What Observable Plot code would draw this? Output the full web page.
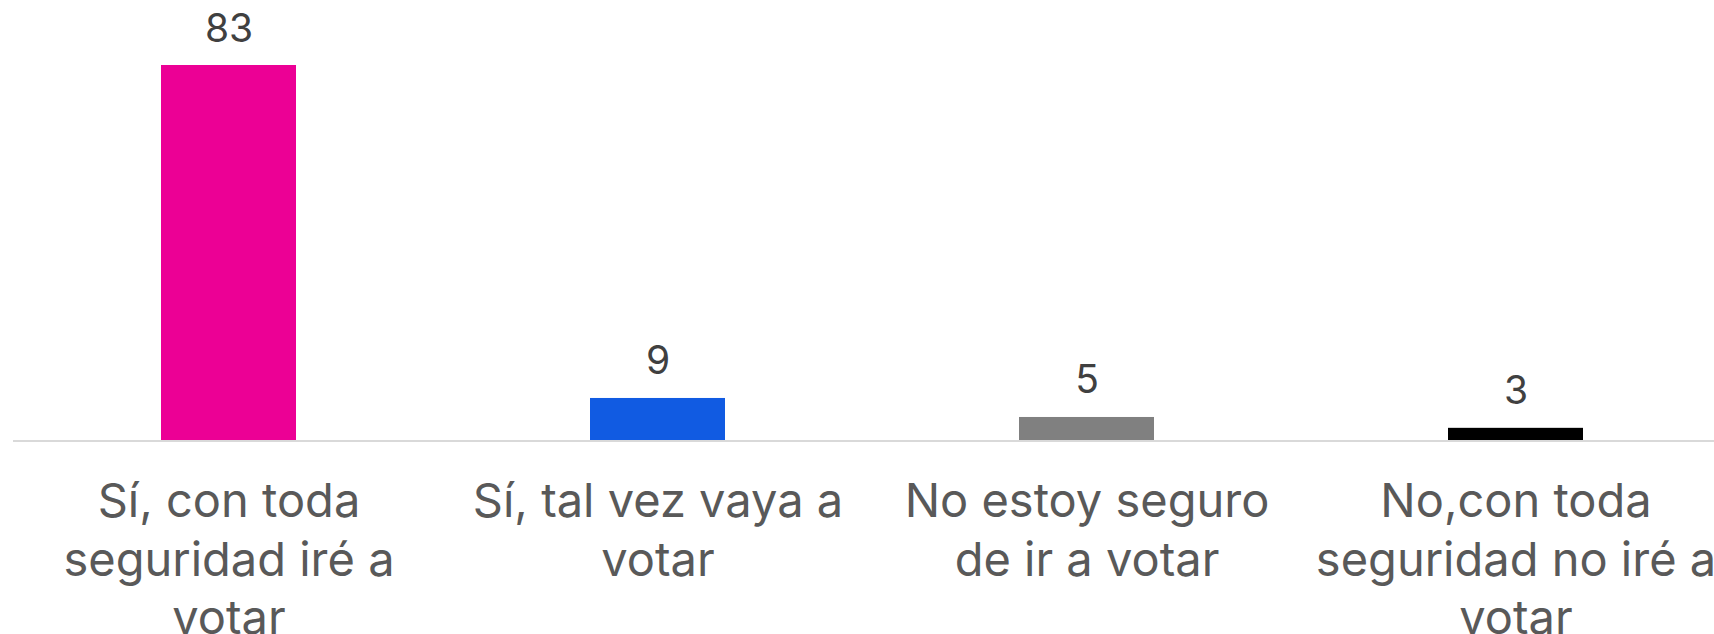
<!DOCTYPE html>
<html>
<head>
<meta charset="utf-8">
<script src="https://cdn.jsdelivr.net/npm/d3@7"></script>
<script src="https://cdn.jsdelivr.net/npm/@observablehq/plot@0.6"></script>
<style>
  html, body { margin: 0; padding: 0; background: #fff; overflow: hidden; }
  #chart svg { display: block; }
</style>
</head>
<body>
<div id="chart"></div>
<script>
const categories = [
  "Sí, con toda\nseguridad iré a\nvotar",
  "Sí, tal vez vaya a\nvotar",
  "No estoy seguro\nde ir a votar",
  "No,con toda\nseguridad no iré a\nvotar"
];
const values = [83, 9.4, 5.2, 2.8];
const valueLabels = ["83", "9", "5", "3"];
const colors = ["#EC0095", "#115BE2", "#808080", "#000000"];

const data = categories.map((c, i) => ({cat: c, value: values[i], label: valueLabels[i], color: colors[i]}));

const chart = Plot.plot({
  width: 1714,
  height: 634,
  marginTop: 65,
  marginBottom: 193.5,
  marginLeft: 13,
  marginRight: -16,
  style: {fontFamily: "Inter, 'Noto Sans', sans-serif", background: "#fff", overflow: "hidden"},
  x: {domain: categories, paddingInner: 0.686, paddingOuter: 0.343, label: null},
  y: {domain: [0, d3.max(values)], axis: null},
  marks: [
    Plot.barY(data, {x: "cat", y: "value", fill: "color"}),
    Plot.ruleY([0], {stroke: "#d9d9d9", strokeWidth: 2}),
    Plot.text(data, {x: "cat", y: "value", text: "label", lineAnchor: "bottom", dy: -24, fontSize: 39, fill: "#404040"}),
    Plot.axisX({tickSize: 0, tickPadding: 35, fontSize: 47, fill: "#595959", lineHeight: 1.24, label: null})
  ]
});
document.getElementById("chart").appendChild(chart);
</script>
</body>
</html>
